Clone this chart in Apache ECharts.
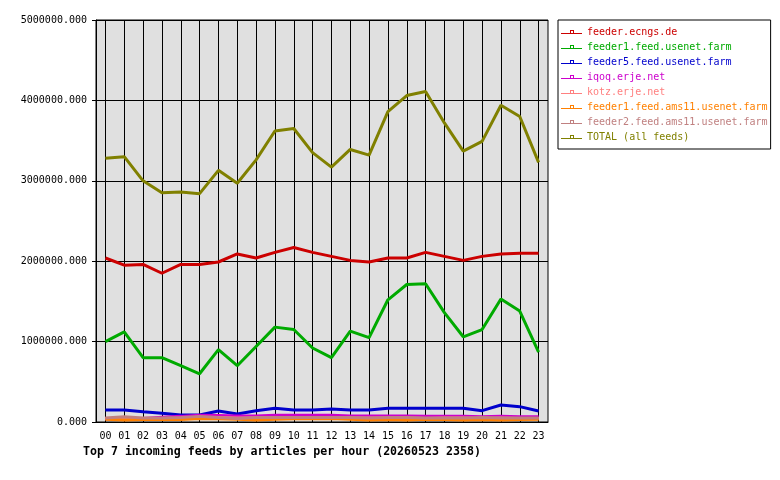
<!DOCTYPE html>
<html>
<head>
<meta charset="utf-8">
<script src="https://cdn.jsdelivr.net/npm/echarts@6/dist/echarts.min.js"></script>
<style>
  html, body { margin: 0; padding: 0; background: #fff; }
  #feedChart { width: 780px; height: 480px; }
</style>
</head>
<body>
<div id="feedChart"></div>
<script>
// hours of the day
var hours = ['00','01','02','03','04','05','06','07','08','09','10','11',
             '12','13','14','15','16','17','18','19','20','21','22','23'];

var feederEcngs = [2040000,1950000,1960000,1850000,1960000,1960000,1990000,2090000,2040000,2110000,2170000,2110000,
                   2060000,2010000,1990000,2040000,2040000,2110000,2060000,2010000,2060000,2090000,2100000,2100000];
var feeder1Usenet = [1000000,1120000,800000,800000,700000,600000,900000,700000,940000,1180000,1150000,920000,
                     800000,1130000,1050000,1520000,1710000,1720000,1360000,1060000,1150000,1530000,1380000,870000];
var feeder5Usenet = [150000,150000,128000,108000,87000,87000,137000,100000,141000,170000,150000,150000,
                     162000,150000,150000,170000,170000,170000,170000,170000,141000,211000,191000,137000];
var iqoq = [40000,45000,45000,60000,70000,85000,80000,75000,75000,85000,85000,85000,
            85000,75000,75000,75000,75000,70000,70000,70000,65000,70000,65000,65000];
var kotz = [45000,50000,45000,45000,50000,60000,55000,50000,50000,55000,55000,55000,
            55000,50000,50000,50000,50000,45000,50000,50000,45000,50000,45000,45000];
var feeder1Ams = [35000,25000,30000,35000,30000,45000,40000,35000,25000,35000,40000,40000,
                  45000,35000,25000,30000,25000,35000,30000,25000,30000,25000,30000,35000];
var feeder2Ams = [50000,65000,50000,50000,55000,70000,55000,45000,55000,55000,55000,55000,
                  55000,55000,50000,55000,55000,50000,50000,50000,55000,50000,50000,50000];
var totalFeeds = [3280000,3300000,3000000,2850000,2860000,2840000,3130000,2970000,3260000,3620000,3650000,3350000,
                  3170000,3390000,3320000,3860000,4060000,4110000,3720000,3370000,3490000,3940000,3800000,3230000];

var feedNames = ['feeder.ecngs.de','feeder1.feed.usenet.farm','feeder5.feed.usenet.farm','iqoq.erje.net',
                 'kotz.erje.net','feeder1.feed.ams11.usenet.farm','feeder2.feed.ams11.usenet.farm','TOTAL (all feeds)'];
var feedColors = ['#cc0000','#00aa00','#0000cc','#cc00cc','#ff8080','#ff8000','#c08080','#808000'];
var feedData = [feederEcngs, feeder1Usenet, feeder5Usenet, iqoq, kotz, feeder1Ams, feeder2Ams, totalFeeds];

var mono = 'DejaVu Sans Mono';
// legend glyph: thin line with a small hollow box on it
var legendIcon = 'path://M0,5L21,5L21,6L0,6Z M9,2L13,2L13,3L9,3Z M9,2L10,2L10,5L9,5Z M12,2L13,2L13,5L12,5Z';

feedChart('feedChart');

function feedChart(id) {
    var chart = echarts.init(document.getElementById(id));
    var series = [];
    var legendData = [];
    for (var i = 0; i < feedNames.length; i++) {
        series.push({
            name: feedNames[i],
            type: 'line',
            data: feedData[i],
            showSymbol: false,
            color: feedColors[i],
            lineStyle: { width: 3, color: feedColors[i] },
            z: 2 + i
        });
        legendData.push({ name: feedNames[i], icon: legendIcon, textStyle: { color: feedColors[i] } });
    }

    var option = {
        animation: false,
        title: {
            text: 'Top 7 incoming feeds by articles per hour (20260523 2358)',
            left: 83,
            top: 446,
            padding: 0,
            textStyle: { fontFamily: mono, fontSize: 11.6, fontWeight: 'bold', color: '#000' }
        },
        legend: {
            orient: 'vertical',
            left: 558,
            top: 20,
            padding: [7, 3, 7, 3],
            itemGap: 5,
            itemWidth: 21,
            itemHeight: 5,
            borderColor: '#000',
            borderWidth: 1,
            backgroundColor: '#fff',
            textStyle: { fontFamily: mono, fontSize: 10, lineHeight: 10 },
            data: legendData
        },
        grid: {
            left: 96,
            top: 20,
            width: 452,
            height: 402,
            show: true,
            backgroundColor: '#e0e0e0',
            borderColor: '#000',
            borderWidth: 1
        },
        xAxis: {
            type: 'category',
            data: hours,
            boundaryGap: true,
            axisLine: { lineStyle: { color: '#000', width: 1 } },
            axisTick: { alignWithLabel: true, length: 4, lineStyle: { color: '#000' } },
            axisLabel: { fontFamily: mono, fontSize: 10, color: '#000', margin: 9, interval: 0 },
            splitLine: { show: true, alignWithLabel: true, lineStyle: { color: '#000', width: 1 } }
        },
        yAxis: {
            type: 'value',
            min: 0,
            max: 5000000,
            interval: 1000000,
            axisLine: { show: true, lineStyle: { color: '#000', width: 1 } },
            axisTick: { show: true, length: 4, lineStyle: { color: '#000' } },
            axisLabel: {
                fontFamily: mono, fontSize: 10, color: '#000', margin: 9,
                formatter: function (v) { return v.toFixed(3); }
            },
            splitLine: { show: true, lineStyle: { color: '#000', width: 1 } }
        },
        series: series
    };
    chart.setOption(option);
}
</script>
</body>
</html>
